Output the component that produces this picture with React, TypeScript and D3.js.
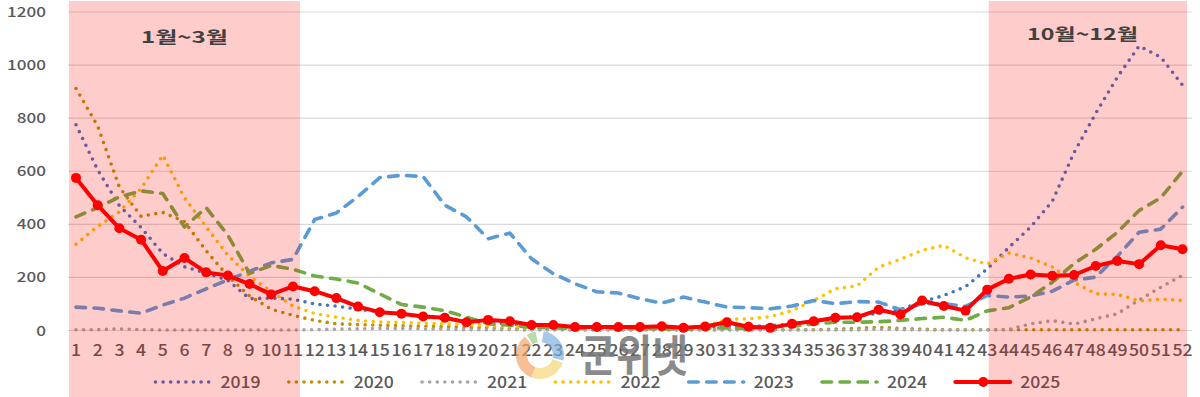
import React from "react";
import * as d3 from "d3";

const weeks: number[] = Array.from({ length: 52 }, (_, i) => i + 1);
const yTicks: number[] = [0, 200, 400, 600, 800, 1000, 1200];

const s2019 = [775,605,470,388,290,240,216,189,120,122,118,100,92,80,70,62,52,45,35,30,25,18,15,12,10,10,10,10,10,12,15,15,18,25,35,45,55,65,80,108,132,165,232,313,390,487,670,818,955,1072,1030,925];
const s2020 = [912,770,540,430,445,410,300,205,130,80,57,38,25,22,20,18,16,15,12,10,8,5,4,3,3,3,3,3,3,3,3,3,3,3,3,5,8,12,8,5,3,3,3,3,3,3,3,3,3,3,3,3];
const s2021 = [3,3,6,3,2,2,2,2,2,2,2,3,5,6,8,8,6,5,3,3,3,2,2,2,2,2,2,2,2,2,2,2,2,2,2,2,2,5,3,2,2,2,2,4,25,37,24,44,63,115,163,208];
const s2022 = [325,392,447,535,660,500,390,283,204,147,92,64,50,38,32,30,28,25,22,18,15,12,10,10,8,8,8,10,11,15,42,44,52,75,113,157,168,239,268,302,321,274,250,292,273,239,182,138,136,111,118,113];
const s2023 = [88,84,74,65,96,122,157,191,223,255,268,418,443,505,576,585,580,472,428,346,367,270,214,176,146,141,120,103,126,107,88,86,82,92,113,101,109,107,78,101,101,91,132,126,130,148,190,201,280,370,382,465];
const s2024 = [428,463,503,526,516,390,463,359,215,245,231,205,194,179,138,98,88,75,50,25,20,12,10,8,8,8,8,6,5,8,10,8,15,15,25,31,31,33,38,45,50,38,74,86,126,182,252,306,370,452,500,600];
const s2025 = [575,472,385,342,224,273,219,207,175,136,166,148,122,90,69,63,53,48,31,40,35,21,21,13,13,13,13,16,10,15,31,14,10,25,35,48,50,78,60,113,92,75,154,195,211,206,209,243,262,250,321,306];

const seriesNames = ["2019", "2020", "2021", "2022", "2023", "2024", "2025"];
const seriesValues = [s2019, s2020, s2021, s2022, s2023, s2024, s2025];
const seriesColors = ["#4472C4", "#BF9000", "#A5A5A5", "#FFC000", "#5B9BD5", "#70AD47", "#FF0000"];
const seriesKinds = ["dot", "dot", "dot", "dot", "dash", "dash", "solid"];

const highlightRanges: [number, number][] = [[1, 11], [43, 52]];
const highlightLabels = ["1월~3월", "10월~12월"];

const W = 1200;
const H = 397;
const FONT = "'Noto Sans CJK KR', 'Noto Sans', sans-serif";
const TXT = "#595959";

function strokeProps(kind: string) {
  if (kind === "dot") return { strokeWidth: 3.6, strokeDasharray: "0 7.6", strokeLinecap: "round" as const };
  if (kind === "dash") return { strokeWidth: 3.6, strokeDasharray: "9.5 8.5", strokeLinecap: "round" as const };
  return { strokeWidth: 4, strokeLinecap: "round" as const };
}

export default function App() {
  const x = d3.scaleLinear().domain([1, 52]).range([76, 1182.5]);
  const y = d3.scaleLinear().domain([0, 1200]).range([330.5, 12]);
  const line = d3
    .line<number>()
    .x((_, i) => x(weeks[i]))
    .y((d) => y(d));

  const bands = [
    { x0: x(highlightRanges[0][0]) - 7, x1: x(highlightRanges[0][1]) + 7 },
    { x0: x(highlightRanges[1][0]) + 1.5, x1: x(highlightRanges[1][1]) + 4.5 },
  ];

  const legendStart = 153.5;
  const legendStep = 133.3;
  const legendY = 382;

  const arc = d3.arc();
  const logo = [
    { a0: 3.5, a1: 5.6, c: "#F2A66B" },
    { a0: 1.9, a1: 3.5, c: "#F5D77A" },
    { a0: 0.15, a1: 1.8, c: "#7FB0E0" },
    { a0: 5.7, a1: 6.1, c: "#9CCB86" },
  ];

  return (
    <svg
      width={W}
      height={H}
      style={{ position: "absolute", left: 0, top: 0, background: "#fff" }}
      fontFamily={FONT}
    >
      <rect x={0} y={0} width={W} height={H} fill="#fff" />
      {yTicks.map((t) => (
        <line key={t} x1={68} x2={1192} y1={y(t)} y2={y(t)} stroke="#D9D9D9" strokeWidth={1.2} />
      ))}
      {yTicks.map((t) => (
        <text
          key={"yl" + t}
          transform={`translate(46,${y(t) + 5}) scale(1.22,1)`}
          textAnchor="end"
          fontSize={14}
          fontWeight={500}
          fill={TXT}
        >
          {t}
        </text>
      ))}
      {weeks.map((w) => (
        <text
          key={"xl" + w}
          transform={`translate(${x(w)},355.5) scale(1.1,1)`}
          textAnchor="middle"
          fontSize={16}
          fontWeight={500}
          fill={TXT}
        >
          {w}
        </text>
      ))}
      <g transform="translate(540,355)" opacity={0.7}>
        {logo.map((l, i) => (
          <path
            key={i}
            d={arc({ innerRadius: 13, outerRadius: 24, startAngle: l.a0, endAngle: l.a1 }) || ""}
            fill={l.c}
          />
        ))}
      </g>
      {seriesValues.map((vals, si) => (
        <path
          key={seriesNames[si]}
          d={line(vals) || ""}
          fill="none"
          stroke={seriesColors[si]}
          strokeLinejoin="round"
          {...strokeProps(seriesKinds[si])}
        />
      ))}
      {s2025.map((v, i) => (
        <circle key={"m" + i} cx={x(weeks[i])} cy={y(v)} r={5} fill="#FF0000" />
      ))}
      <text
        x={580}
        y={372}
        fontSize={44}
        fontWeight={700}
        fill="#767676"
        opacity={0.85}
        textLength={108}
        lengthAdjust="spacingAndGlyphs"
      >
        군위넷
      </text>
      {seriesNames.map((n, i) => {
        const lx = legendStart + i * legendStep;
        return (
          <g key={"lg" + n}>
            <line
              x1={lx + 2}
              x2={lx + 57}
              y1={legendY}
              y2={legendY}
              stroke={seriesColors[i]}
              {...strokeProps(seriesKinds[i])}
            />
            {seriesKinds[i] === "solid" && <circle cx={lx + 30} cy={legendY} r={5} fill="#FF0000" />}
            <text
              transform={`translate(${lx + 67},${legendY + 6}) scale(1.1,1)`}
              fontSize={16}
              fontWeight={500}
              fill={TXT}
            >
              {n}
            </text>
          </g>
        );
      })}
      {bands.map((b, i) => (
        <rect key={"b" + i} x={b.x0} y={1} width={b.x1 - b.x0} height={H - 1} fill="#FF0000" opacity={0.2} />
      ))}
      <text
        x={(bands[0].x0 + bands[0].x1) / 2}
        y={43}
        textAnchor="middle"
        fontSize={16}
        fontWeight={700}
        fill="#404040"
        textLength={87}
        lengthAdjust="spacingAndGlyphs"
      >
        {highlightLabels[0]}
      </text>
      <text
        x={1082.5}
        y={40}
        textAnchor="middle"
        fontSize={16}
        fontWeight={700}
        fill="#404040"
        textLength={111}
        lengthAdjust="spacingAndGlyphs"
      >
        {highlightLabels[1]}
      </text>
    </svg>
  );
}
